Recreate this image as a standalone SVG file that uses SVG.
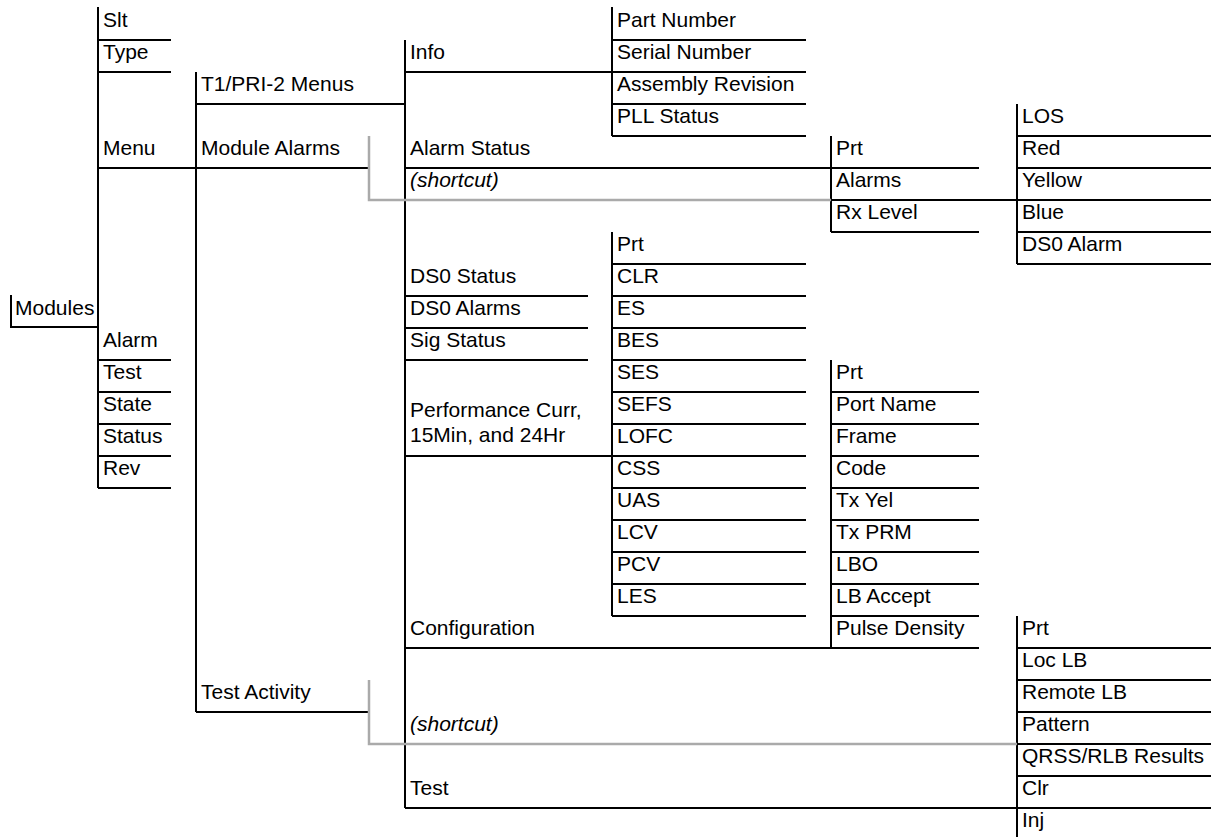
<svg xmlns="http://www.w3.org/2000/svg" width="1211" height="837" viewBox="0 0 1211 837">
<style>
text{font-family:"Liberation Sans",Arial,sans-serif;font-size:21px;fill:#000}
.it{font-style:italic}
.ln{stroke:#000;stroke-width:2;fill:none}
.gr{stroke:#aaaaaa;stroke-width:2.5;fill:none}
</style>
<rect width="1211" height="837" fill="#fff"/>
<g id="connectors">
<path class="ln" d="M11 295V327H98M98 7V488M98 40H171M98 72H171M98 168H370M98 360H171M98 392H171M98 424H171M98 456H171M98 488H171"/>
<path class="ln" d="M196 72V712M196 104H405M196 712H370"/>
<path class="ln" d="M405 40V808M405 72H612M405 168H979M405 296H588M405 328H588M405 360H588M405 456H806M405 648H979M405 808H1017"/>
<path class="ln" d="M612 7V136M612 40H806M612 72H806M612 104H806M612 136H806"/>
<path class="ln" d="M612 232V616M612 264H806M612 296H806M612 328H806M612 360H806M612 392H806M612 424H806M612 488H806M612 520H806M612 552H806M612 584H806M612 616H806"/>
<path class="ln" d="M831 136V232M831 200H1211M831 232H979"/>
<path class="ln" d="M831 360V648M831 392H979M831 424H979M831 456H979M831 488H979M831 520H979M831 552H979M831 584H979M831 616H979"/>
<path class="ln" d="M1017 104V264M1017 136H1211M1017 168H1211M1017 232H1211M1017 264H1211"/>
<path class="ln" d="M1017 616V837M1017 648H1211M1017 680H1211M1017 712H1211M1017 744H1211M1017 776H1211M1017 808H1211"/>
<path class="gr" d="M369 136V200H831"/>
<path class="gr" d="M369 680V744H1017"/>
</g>
<g id="modules"><text x="15" y="315">Modules</text></g>
<g id="slt"><text x="103" y="27">Slt</text></g>
<g id="type"><text x="103" y="59">Type</text></g>
<g id="menu"><text x="103" y="155">Menu</text></g>
<g id="alarm"><text x="103" y="347">Alarm</text></g>
<g id="test-a"><text x="103" y="379">Test</text></g>
<g id="state"><text x="103" y="411">State</text></g>
<g id="status"><text x="103" y="443">Status</text></g>
<g id="rev"><text x="103" y="475">Rev</text></g>
<g id="t1pri2"><text x="201" y="91">T1/PRI-2 Menus</text></g>
<g id="module-alarms"><text x="201" y="155">Module Alarms</text></g>
<g id="test-activity"><text x="201" y="699">Test Activity</text></g>
<g id="info"><text x="410" y="59">Info</text></g>
<g id="alarm-status"><text x="410" y="155">Alarm Status</text></g>
<g id="shortcut1"><text class="it" x="410" y="187">(shortcut)</text></g>
<g id="ds0-status"><text x="410" y="283">DS0 Status</text></g>
<g id="ds0-alarms"><text x="410" y="315">DS0 Alarms</text></g>
<g id="sig-status"><text x="410" y="347">Sig Status</text></g>
<g id="performance"><text x="410" y="417">Performance Curr,</text><text x="410" y="442">15Min, and 24Hr</text></g>
<g id="configuration"><text x="410" y="635">Configuration</text></g>
<g id="shortcut2"><text class="it" x="410" y="731">(shortcut)</text></g>
<g id="test-c"><text x="410" y="795">Test</text></g>
<g id="part-number"><text x="617" y="27">Part Number</text></g>
<g id="serial-number"><text x="617" y="59">Serial Number</text></g>
<g id="assembly-revision"><text x="617" y="91">Assembly Revision</text></g>
<g id="pll-status"><text x="617" y="123">PLL Status</text></g>
<g id="prt-d"><text x="617" y="251">Prt</text></g>
<g id="clr-d"><text x="617" y="283">CLR</text></g>
<g id="es"><text x="617" y="315">ES</text></g>
<g id="bes"><text x="617" y="347">BES</text></g>
<g id="ses"><text x="617" y="379">SES</text></g>
<g id="sefs"><text x="617" y="411">SEFS</text></g>
<g id="lofc"><text x="617" y="443">LOFC</text></g>
<g id="css"><text x="617" y="475">CSS</text></g>
<g id="uas"><text x="617" y="507">UAS</text></g>
<g id="lcv"><text x="617" y="539">LCV</text></g>
<g id="pcv"><text x="617" y="571">PCV</text></g>
<g id="les"><text x="617" y="603">LES</text></g>
<g id="prt-e1"><text x="836" y="155">Prt</text></g>
<g id="alarms"><text x="836" y="187">Alarms</text></g>
<g id="rx-level"><text x="836" y="219">Rx Level</text></g>
<g id="prt-e2"><text x="836" y="379">Prt</text></g>
<g id="port-name"><text x="836" y="411">Port Name</text></g>
<g id="frame"><text x="836" y="443">Frame</text></g>
<g id="code"><text x="836" y="475">Code</text></g>
<g id="tx-yel"><text x="836" y="507">Tx Yel</text></g>
<g id="tx-prm"><text x="836" y="539">Tx PRM</text></g>
<g id="lbo"><text x="836" y="571">LBO</text></g>
<g id="lb-accept"><text x="836" y="603">LB Accept</text></g>
<g id="pulse-density"><text x="836" y="635">Pulse Density</text></g>
<g id="los"><text x="1022" y="123">LOS</text></g>
<g id="red"><text x="1022" y="155">Red</text></g>
<g id="yellow"><text x="1022" y="187">Yellow</text></g>
<g id="blue"><text x="1022" y="219">Blue</text></g>
<g id="ds0-alarm"><text x="1022" y="251">DS0 Alarm</text></g>
<g id="prt-f"><text x="1022" y="635">Prt</text></g>
<g id="loc-lb"><text x="1022" y="667">Loc LB</text></g>
<g id="remote-lb"><text x="1022" y="699">Remote LB</text></g>
<g id="pattern"><text x="1022" y="731">Pattern</text></g>
<g id="qrss"><text x="1022" y="763">QRSS/RLB Results</text></g>
<g id="clr-f"><text x="1022" y="795">Clr</text></g>
<g id="inj"><text x="1022" y="827">Inj</text></g>
</svg>
